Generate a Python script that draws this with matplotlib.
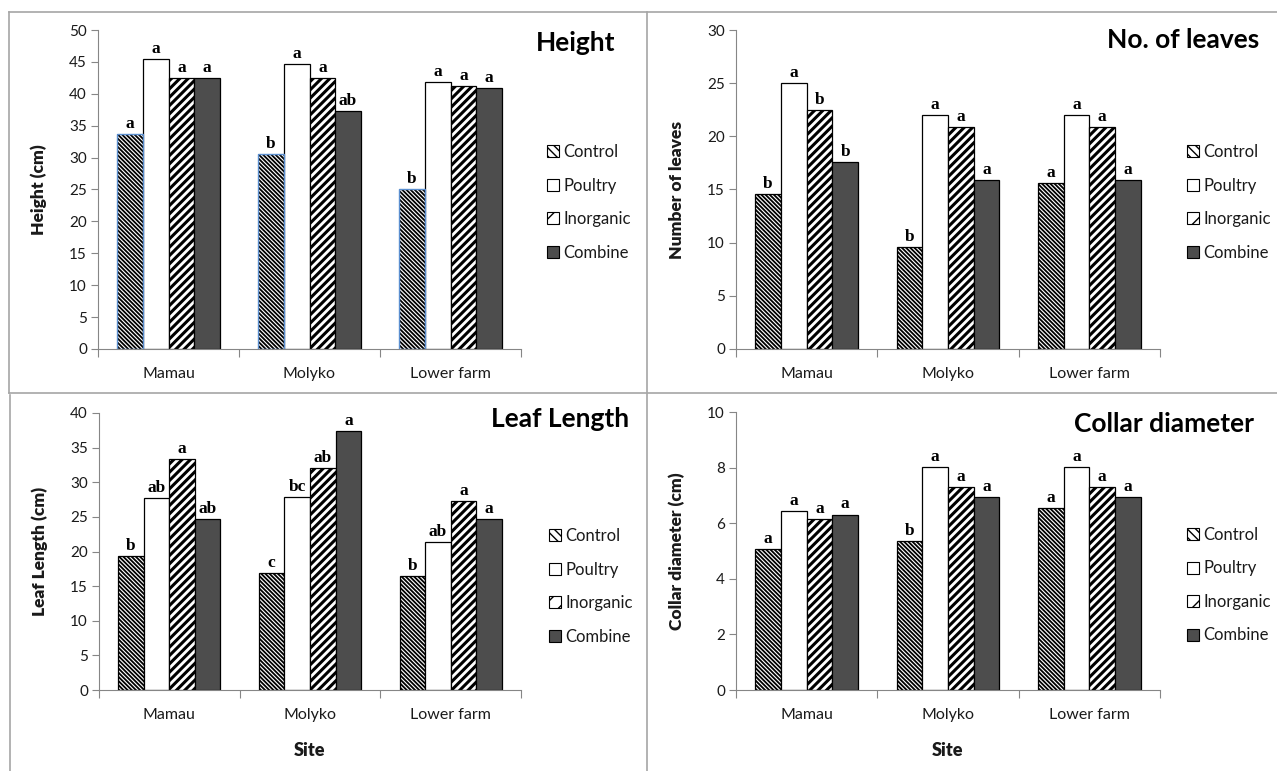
import matplotlib.pyplot as plt
import numpy as np
from matplotlib.lines import Line2D
from matplotlib.patches import Patch

# Data
sites = ['Mamau', 'Molyko', 'Lower farm']
treatments = ['Control', 'Poultry', 'Inorganic', 'Combine']

# rows = treatments, columns = sites
height = [[33.7, 30.6, 25.0],
          [45.4, 44.6, 41.9],
          [42.5, 42.5, 41.2],
          [42.5, 37.3, 40.9]]
height_letters = [['a', 'b', 'b'],
                  ['a', 'a', 'a'],
                  ['a', 'a', 'a'],
                  ['a', 'ab', 'a']]

leaves = [[14.6, 9.6, 15.6],
          [25.0, 22.0, 22.0],
          [22.5, 20.9, 20.9],
          [17.6, 15.9, 15.9]]
leaves_letters = [['b', 'b', 'a'],
                  ['a', 'a', 'a'],
                  ['b', 'a', 'a'],
                  ['b', 'a', 'a']]

leaf_length = [[19.4, 16.9, 16.4],
               [27.7, 27.9, 21.4],
               [33.3, 32.0, 27.3],
               [24.7, 37.4, 24.7]]
leaf_length_letters = [['b', 'c', 'b'],
                       ['ab', 'bc', 'ab'],
                       ['a', 'ab', 'a'],
                       ['ab', 'a', 'a']]

collar = [[5.07, 5.35, 6.53],
          [6.45, 8.03, 8.03],
          [6.16, 7.30, 7.30],
          [6.31, 6.93, 6.93]]
collar_letters = [['a', 'b', 'a'],
                  ['a', 'a', 'a'],
                  ['a', 'a', 'a'],
                  ['a', 'a', 'a']]

# Estilo
W, H = 1277, 771
SANS = ['Lato', 'DejaVu Sans']
SERIF = ['Liberation Serif', 'DejaVu Serif']
AXIS_GRAY = '#868686'
TXT = '#1a1a1a'

styles = [dict(facecolor='white', hatch='\\' * 8, hlw=1.3),
          dict(facecolor='white', hatch=None, hlw=1.0),
          dict(facecolor='white', hatch='////', hlw=2.2),
          dict(facecolor='#4d4d4d', hatch=None, hlw=1.0)]


def box(l, t, r, b):
    return [l / W, 1 - b / H, (r - l) / W, (b - t) / H]


def make_bar(ax, x, y, w, st, edge='black'):
    bars = ax.bar(x, y, w, facecolor=st['facecolor'], edgecolor='black',
                  hatch=st['hatch'], linewidth=0.9 if edge == 'black' else 0, zorder=2)
    for b in bars:
        if hasattr(b, 'set_hatch_linewidth'):
            b.set_hatch_linewidth(st['hlw'])
    if edge != 'black':
        ax.bar(x, y, w, fill=False, edgecolor=edge, linewidth=1.0, zorder=3)
    return bars


panels = [
    dict(vals=height, letters=height_letters, ymax=50, step=5, ylabel='Height (cm)',
         title='Height', tpos=(536, 43), rect=(98, 30, 521, 349), leg=(547, 144),
         ctrl_edge='#5b8fd0', xlabel=None),
    dict(vals=leaves, letters=leaves_letters, ymax=30, step=5, ylabel='Number of leaves',
         title='No. of leaves', tpos=(1107, 40), rect=(736, 30, 1160, 349), leg=(1187, 144),
         ctrl_edge='black', xlabel=None),
    dict(vals=leaf_length, letters=leaf_length_letters, ymax=40, step=5, ylabel='Leaf Length (cm)',
         title='Leaf Length', tpos=(491, 419), rect=(99, 413, 521, 690), leg=(549, 528),
         ctrl_edge='black', xlabel='Site'),
    dict(vals=collar, letters=collar_letters, ymax=10, step=2, ylabel='Collar diameter (cm)',
         title='Collar diameter', tpos=(1074, 424), rect=(736, 412, 1160, 690), leg=(1187, 527),
         ctrl_edge='black', xlabel='Site'),
]

fig = plt.figure(figsize=(W / 100, H / 100), dpi=100)

x = np.arange(len(sites))
w = 1 / 5.5

for p in panels:
    l, t, r, b = p['rect']
    ax = fig.add_axes(box(l, t, r, b))
    for i, st in enumerate(styles):
        edge = p['ctrl_edge'] if i == 0 else 'black'
        bars = make_bar(ax, x + (i - 1.5) * w, p['vals'][i], w, st, edge)
        for bar, lab in zip(bars, p['letters'][i]):
            ax.annotate(lab, (bar.get_x() + bar.get_width() / 2, bar.get_height()),
                        xytext=(0, 1.5), textcoords='offset points', ha='center', va='bottom',
                        fontsize=12.5, fontweight='bold', family=SERIF, color='black')

    ax.set_xlim(-0.5, len(sites) - 0.5)
    ax.set_ylim(0, p['ymax'])
    ax.set_yticks(np.arange(0, p['ymax'] + 0.1, p['step']))
    ax.set_xticks(np.arange(-0.5, len(sites)), labels=[])
    ax.set_xticks(x, labels=sites, minor=True)
    ax.tick_params(axis='x', which='major', length=6, color=AXIS_GRAY)
    ax.tick_params(axis='x', which='minor', length=0, pad=13, labelsize=11.5, labelcolor=TXT)
    ax.tick_params(axis='y', length=5, color=AXIS_GRAY, pad=3, labelsize=11, labelcolor=TXT)
    for lbl in ax.get_xticklabels(minor=True) + ax.get_yticklabels():
        lbl.set_family(SANS)
    for s in ['top', 'right']:
        ax.spines[s].set_visible(False)
    for s in ['left', 'bottom']:
        ax.spines[s].set_color(AXIS_GRAY)
        ax.spines[s].set_zorder(4)

    ax.set_ylabel(p['ylabel'], fontsize=12.5, fontweight='heavy', family=SANS, color=TXT)
    ax.yaxis.set_label_coords(-51 / (r - l), 0.5)
    if p['xlabel']:
        ax.set_xlabel(p['xlabel'], fontsize=13, fontweight='heavy', family=SANS, color=TXT)
        ax.xaxis.set_label_coords(0.5, -(742 - b) / (b - t))

    fig.text(p['tpos'][0] / W, 1 - p['tpos'][1] / H, p['title'], fontsize=19,
             fontweight='bold', family=SANS, ha='left', va='center', color='black')

    handles = []
    for i, st in enumerate(styles):
        hp = Patch(facecolor=st['facecolor'], edgecolor='black',
                   hatch=st['hatch'][:len(st['hatch']) // 2] if st['hatch'] else None, linewidth=0.8)
        handles.append(hp)
    leg = fig.legend(handles, treatments, loc='upper left',
                     bbox_to_anchor=(p['leg'][0] / W, 1 - p['leg'][1] / H),
                     frameon=False, handlelength=0.7, handleheight=0.7, handletextpad=0.3,
                     labelspacing=1.05, borderpad=0, borderaxespad=0,
                     prop={'family': SANS, 'size': 12})
    for txt in leg.get_texts():
        txt.set_color(TXT)

# Bordas dos painéis
BORDER = '#a6a6a6'
segs = [((9, 12), (1277, 12)), ((9, 393), (1277, 393)), ((9, 12), (9, 393)),
        ((10, 395), (10, 771)), ((647, 12), (647, 771))]
for (x0, y0), (x1, y1) in segs:
    fig.add_artist(Line2D([x0 / W, x1 / W], [1 - y0 / H, 1 - y1 / H],
                          transform=fig.transFigure, color=BORDER, linewidth=1.2))

fig.savefig('out.png', dpi=100)
